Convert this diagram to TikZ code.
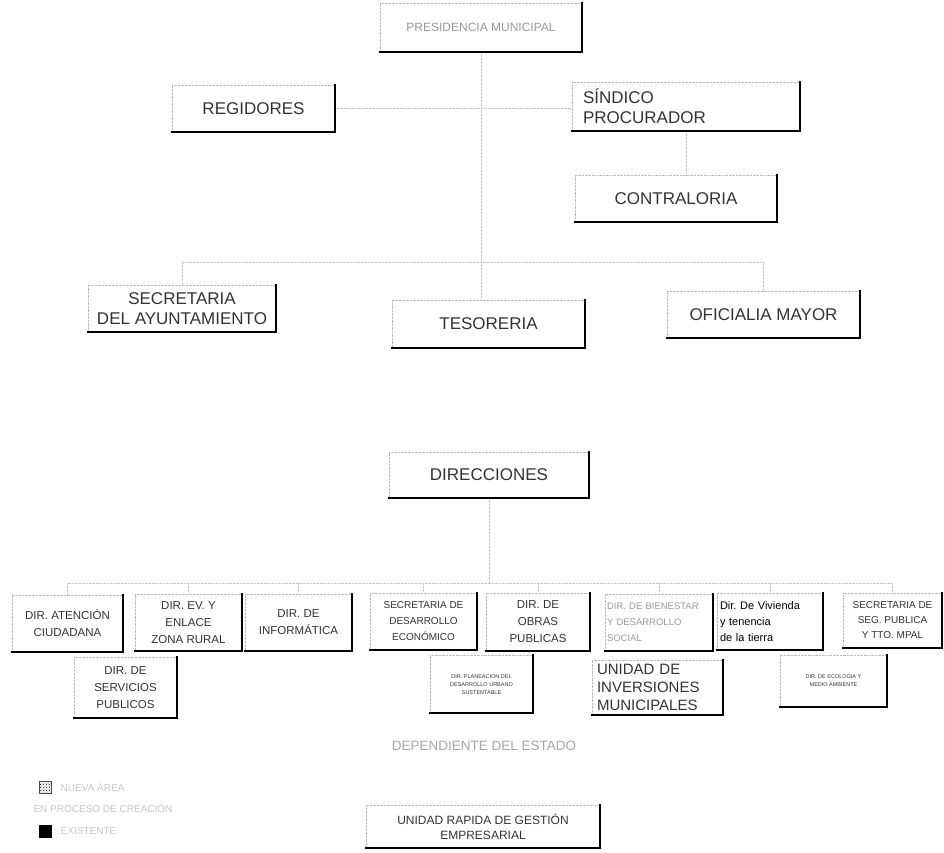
\documentclass[tikz,border=0pt]{standalone}
\usepackage{fontspec}
\setmainfont{Liberation Sans}
\usetikzlibrary{positioning}
\usetikzlibrary{patterns}
\tikzset{
    unit/.style = {rectangle, draw=gray!55, densely dotted, inner sep=2pt, align=center, text=black!80},
    unitl/.style = {unit, align=left},
    shadowline/.style = {draw=black, line width=1.8pt, line cap=rect},
    link/.style = {draw=gray!45, densely dotted, thin},
    bigtext/.style = {font=\fontsize{17}{20}\selectfont},
    midtext/.style = {font=\fontsize{12}{15}\selectfont},
    smalltext/.style = {font=\fontsize{11.5}{17}\selectfont},
    tinytext/.style = {font=\fontsize{5.5}{8}\selectfont},
    faint/.style = {text=gray!80},
    keytext/.style = {anchor=west, xshift=6pt, text=gray!45, font=\fontsize{10}{12}\selectfont}
}

\begin{document}
\frenchspacing
\begin{tikzpicture}[x=1pt, y=-1pt]
  \useasboundingbox (0,0) rectangle (944,852);

  % upper levels
  \node[unit, midtext, faint, minimum width=202, minimum height=49] (pres) at (481,27.5) {PRESIDENCIA MUNICIPAL};
  \node[unit, bigtext, minimum width=163, minimum height=47] (reg) at (253.5,108.5) {REGIDORES};
  \node[unitl, bigtext, minimum width=228, minimum height=49, text width=206, inner xsep=11] (sind) at (686,106.5) {SÍNDICO\\PROCURADOR};
  \node[unit, bigtext, minimum width=202, minimum height=47] (contra) at (676,198.5) {CONTRALORIA};
  \node[unit, bigtext, minimum width=188, minimum height=47] (sec) at (182,308.5) {SECRETARIA\\DEL AYUNTAMIENTO};
  \node[unit, bigtext, minimum width=193, minimum height=48] (tes) at (488.5,324) {TESORERIA};
  \node[unit, bigtext, minimum width=193, minimum height=47] (ofi) at (763.5,314.5) {OFICIALIA MAYOR};
  \node[unit, bigtext, minimum width=200, minimum height=46] (dir) at (489,475) {DIRECCIONES};

  % direcciones
  \node[unit, smalltext, minimum width=111, minimum height=57] (aten) at (67.5,623.5) {DIR. ATENCIÓN\\CIUDADANA};
  \node[unit, smalltext, minimum width=107, minimum height=57] (ev) at (188.5,622.5) {DIR. EV. Y\\ENLACE\\ZONA RURAL};
  \node[unit, smalltext, minimum width=107, minimum height=57] (info) at (298.5,622.5) {DIR. DE\\INFORMÁTICA};
  \node[unit, smalltext, minimum width=103, minimum height=61] (serv) at (125.5,687.5) {DIR. DE\\SERVICIOS\\PUBLICOS};
  \node[unit, font=\fontsize{10}{16}\selectfont, minimum width=107, minimum height=57] (deco) at (423.5,621.5) {SECRETARIA DE\\DESARROLLO\\ECONÓMICO};
  \node[unit, smalltext, minimum width=104, minimum height=58] (obras) at (538,622) {DIR. DE\\OBRAS\\PUBLICAS};
  \node[unit, tinytext, minimum width=103, minimum height=58] (plan) at (481.5,684) {DIR. PLANEACIÓN DEL\\DESARROLLO URBANO\\SUSTENTABLE};
  \node[unitl, faint, font=\fontsize{9.5}{16}\selectfont, minimum width=108, minimum height=57, text width=104] (bien) at (659,622.5) {DIR. DE BIENESTAR\\Y DESARROLLO\\SOCIAL};
  \node[unitl, font=\fontsize{11}{16}\selectfont, text=black, minimum width=106, minimum height=57, text width=100] (viv) at (770,621.5) {Dir. De Vivienda\\y tenencia\\de la tierra};
  \node[unit, font=\fontsize{10}{15}\selectfont, minimum width=99, minimum height=55] (seg) at (892.5,620.5) {SECRETARIA DE\\SEG. PUBLICA\\Y TTO. MPAL};
  \node[unitl, font=\fontsize{15}{18}\selectfont, minimum width=131, minimum height=55, text width=121] (inv) at (657.5,687.5) {UNIDAD DE\\INVERSIONES\\MUNICIPALES};
  \node[unit, tinytext, minimum width=107, minimum height=52] (eco) at (833.5,681) {DIR. DE ECOLOGIA Y\\MEDIO AMBIENTE};

  % dependiente del estado
  \node[text=gray!70, font=\fontsize{13.5}{16}\selectfont] (dep) at (484,746) {DEPENDIENTE DEL ESTADO};
  \node[unit, midtext, minimum width=234, minimum height=43] (urg) at (483,826.5) {UNIDAD RAPIDA DE GESTIÓN\\EMPRESARIAL};

  % key
  \node[draw=black!70, pattern=crosshatch dots, minimum size=12, inner sep=0] (keynew) at (45,787) {};
  \node[keytext] (keynewt) at (keynew.east) {NUEVA ÁREA};
  \node[keytext, xshift=-6pt] (keyproc) at (30,808) {EN PROCESO DE CREACIÓN};
  \node[draw=black, fill=black, minimum size=12, inner sep=0] (keyold) at (45,831) {};
  \node[keytext] (keyoldt) at (keyold.east) {EXISTENTE};

  % connectors
  \draw[link] (pres.south) -- (pres.south |- tes.north);
  \draw[link] (reg.east) -- (reg.east -| sind.west);
  \draw[link] (sind.south) -- (sind.south |- contra.north);
  \coordinate (hub) at (481,262);
  \draw[link] (sec.north) |- (hub) -| (ofi.north);
  \coordinate (rail) at (482,583);
  \draw[link] (dir.south) -- (dir.south |- rail);
  \draw[link] (aten.north |- rail) -- (seg.north |- rail);
  \foreach \n in {aten,ev,info,deco,obras,bien,viv,seg}
    \draw[link] (\n.north |- rail) -- (\n.north);

  % shadows
  \foreach \n in {pres,reg,sind,contra,sec,tes,ofi,dir,aten,ev,info,serv,deco,obras,plan,bien,viv,seg,inv,eco,urg}
    \draw[shadowline] (\n.north east) -- (\n.south east) -- (\n.south west);

\end{tikzpicture}
\end{document}
